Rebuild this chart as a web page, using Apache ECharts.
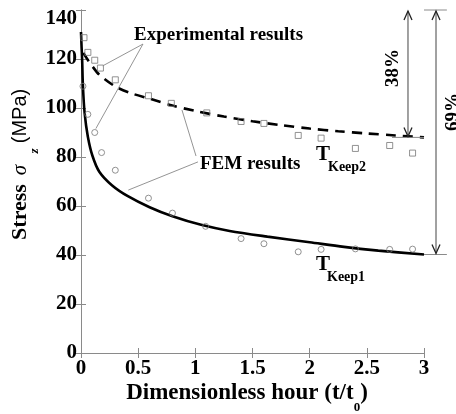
<!DOCTYPE html>
<html>
<head>
<meta charset="utf-8">
<script src="https://cdn.jsdelivr.net/npm/echarts@6/dist/echarts.min.js"></script>
<style>
  html, body { margin: 0; padding: 0; background: #fff; }
  #chart { width: 456px; height: 414px; }
</style>
</head>
<body>
<div id="chart"></div>
<script>
// experimental points (squares = T_Keep2, circles = T_Keep1)
var sqX = [0.026, 0.06, 0.12, 0.17, 0.30, 0.59, 0.79, 1.10, 1.40, 1.60, 1.90, 2.10, 2.40, 2.70, 2.90];
var sqY = [128.7, 122.7, 119.5, 116.3, 111.5, 105.0, 101.9, 98.0, 94.5, 93.7, 88.8, 87.7, 83.5, 84.7, 81.6];
var ciX = [0.017, 0.06, 0.12, 0.18, 0.30, 0.59, 0.80, 1.09, 1.40, 1.60, 1.90, 2.10, 2.40, 2.70, 2.90];
var ciY = [108.9, 97.4, 90.0, 81.8, 74.6, 63.2, 57.1, 51.7, 46.7, 44.6, 41.3, 42.3, 42.5, 42.3, 42.4];

// FEM curves
var fem1X = [0, 0.005, 0.01, 0.017, 0.032, 0.06, 0.1, 0.16, 0.27, 0.41, 0.6, 0.8, 1.05, 1.3, 1.63, 2.0, 2.3, 2.6, 3.0];
var fem1Y = [131, 125, 119.7, 108.8, 97.8, 88.3, 80.5, 74, 68.5, 64, 59.5, 55.8, 52.3, 49.8, 47.5, 45.2, 43.3, 41.8, 40.2];
var fem2X = [0.02, 0.05, 0.1, 0.16, 0.3, 0.44, 0.6, 0.8, 1.0, 1.25, 1.5, 1.75, 2.0, 2.25, 2.5, 2.75, 3.0];
var fem2Y = [122.5, 120.3, 117, 113.6, 108.8, 106, 103.8, 101, 98.8, 96.5, 94.6, 93, 91.6, 90.5, 89.6, 88.8, 88];

var xLabels = ['0', '0.5', '1', '1.5', '2', '2.5', '3'];

function pairs(xs, ys) {
    var out = [];
    for (var i = 0; i < xs.length; i++) out.push([xs[i], ys[i]]);
    return out;
}

var SERIF = '"Liberation Serif", "Times New Roman", serif';
var GRAY = '#8a8a8a';

var chart = echarts.init(document.getElementById('chart'), null, { renderer: 'canvas' });

var axisBase = {
    type: 'value',
    axisLine: { show: true, lineStyle: { color: GRAY, width: 1 } },
    axisTick: { show: true, inside: true, length: 5, lineStyle: { color: GRAY } },
    splitLine: { show: false }
};

var option = {
    animation: false,
    backgroundColor: '#fff',
    grid: { left: 81, top: 10, right: 32, bottom: 61 },
    xAxis: [
        Object.assign({}, axisBase, {
            min: 0, max: 3, interval: 0.5, position: 'bottom',
            axisLabel: {
                margin: 5, color: '#000', fontFamily: SERIF, fontWeight: 'bold', fontSize: 21,
                formatter: function (v) { return xLabels[Math.round(v * 2)]; }
            }
        }),
        Object.assign({}, axisBase, {
            min: 0, max: 3, interval: 0.5, position: 'top',
            axisLabel: { show: false }
        })
    ],
    yAxis: [
        Object.assign({}, axisBase, {
            min: 0, max: 140, interval: 20, position: 'left',
            axisLabel: {
                margin: 4, color: '#000', fontFamily: SERIF, fontWeight: 'bold', fontSize: 21,
                formatter: function (v) { return v === 140 ? '{t|140}' : String(v); },
                rich: { t: { fontFamily: SERIF, fontWeight: 'bold', fontSize: 21, padding: [18, 0, 0, 0] } }
            }
        }),
        Object.assign({}, axisBase, {
            min: 0, max: 140, interval: 20, position: 'right',
            axisLabel: { show: false }
        })
    ],
    series: [
        {
            type: 'line', data: pairs(fem2X, fem2Y), showSymbol: false, smooth: 0.3,
            lineStyle: { color: '#000', width: 2.6, type: [10, 7] }, z: 3
        },
        {
            type: 'line', data: pairs(fem1X, fem1Y), showSymbol: false, smooth: 0.3,
            lineStyle: { color: '#000', width: 2.6 }, z: 3
        },
        {
            type: 'scatter', data: pairs(sqX, sqY), symbol: 'rect', symbolSize: 6,
            itemStyle: { color: 'rgba(255,255,255,0)', borderColor: '#777', borderWidth: 1 }, z: 4
        },
        {
            type: 'scatter', data: pairs(ciX, ciY), symbol: 'circle', symbolSize: 6,
            itemStyle: { color: 'rgba(255,255,255,0)', borderColor: '#777', borderWidth: 1 }, z: 4
        }
    ]
};
chart.setOption(option);

// annotations (leader lines and arrows are anchored in data units)
function px(x, y) { return chart.convertToPixel({ gridIndex: 0 }, [x, y]); }

var leaders = [
    [[0.542, 126.1], [0.19, 117.2]],
    [[0.542, 126.1], [0.13, 91.6]],
    [[1.006, 80.4], [0.883, 99.2]],
    [[1.023, 78.0], [0.414, 66.5]]
];

var g = [];
leaders.forEach(function (l) {
    var a = px(l[0][0], l[0][1]), b = px(l[1][0], l[1][1]);
    g.push({ type: 'line', shape: { x1: a[0], y1: a[1], x2: b[0], y2: b[1] },
        style: { stroke: '#888', lineWidth: 0.9 }, z: 10 });
});

function hline(x1, x2, y, color) {
    var a = px(x1, y), b = px(x2, y);
    g.push({ type: 'line', shape: { x1: a[0], y1: a[1], x2: b[0], y2: b[1] },
        style: { stroke: color, lineWidth: 1 }, z: 10 });
}
function arrow(x, yTop, yBot) {
    var a = px(x, yTop), b = px(x, yBot);
    g.push({ type: 'line', shape: { x1: a[0], y1: a[1] + 1, x2: b[0], y2: b[1] - 1 },
        style: { stroke: '#444', lineWidth: 1 }, z: 10 });
    g.push({ type: 'polyline', shape: { points: [[a[0] - 4, a[1] + 10], [a[0], a[1] + 1], [a[0] + 4, a[1] + 10]] },
        style: { stroke: '#222', lineWidth: 1.3, fill: null }, z: 10 });
    g.push({ type: 'polyline', shape: { points: [[b[0] - 4, b[1] - 10], [b[0], b[1] - 1], [b[0] + 4, b[1] - 10]] },
        style: { stroke: '#222', lineWidth: 1.3, fill: null }, z: 10 });
}
hline(3, 3.2, 140, GRAY);
hline(2.72, 3, 88, GRAY);
hline(3, 3.2, 40.2, GRAY);
arrow(2.86, 140, 88);
arrow(3.105, 140, 40.2);

function txt(x, y, s, font, opts) {
    var o = Object.assign({ type: 'text', x: x, y: y, z: 20,
        style: { text: s, font: font, fill: '#000', align: 'center', verticalAlign: 'middle' } }, opts || {});
    if (opts && opts.style) o.style = Object.assign({ text: s, font: font, fill: '#000', align: 'center', verticalAlign: 'middle' }, opts.style);
    g.push(o);
}
var B19 = 'bold 19px ' + SERIF;
txt(134, 35, 'Experimental results', B19, { style: { align: 'left' } });
txt(200, 164, 'FEM results', B19, { style: { align: 'left' } });
txt(316, 155, 'T', 'bold 21px ' + SERIF, { style: { align: 'left' } });
txt(328, 167, 'Keep2', 'bold 14px ' + SERIF, { style: { align: 'left' } });
txt(316, 265, 'T', 'bold 21px ' + SERIF, { style: { align: 'left' } });
txt(327, 277, 'Keep1', 'bold 14px ' + SERIF, { style: { align: 'left' } });
txt(393, 68, '38%', B19, { rotation: Math.PI / 2 });
txt(453, 112, '69%', B19, { rotation: Math.PI / 2 });

// axis titles
txt(20, 212, 'Stress', 'bold 22px ' + SERIF, { rotation: Math.PI / 2 });
txt(20, 170, 'σ', 'italic 21px ' + SERIF, { rotation: Math.PI / 2 });
txt(35, 151, 'z', 'bold italic 13px ' + SERIF, { rotation: Math.PI / 2 });
txt(20, 116, '(MPa)', '20px "Liberation Sans", Arial, sans-serif', { rotation: Math.PI / 2 });
g.push({
    type: 'text', x: 247, y: 393, z: 20,
    style: {
        text: '{m|Dimensionless hour (t/t}{s|0}{m|)}',
        align: 'center', verticalAlign: 'middle',
        rich: {
            m: { fontFamily: SERIF, fontWeight: 'bold', fontSize: 23, fill: '#000', lineHeight: 26 },
            s: { fontFamily: SERIF, fontWeight: 'bold', fontSize: 13, fill: '#000', lineHeight: 13, padding: [30, 0, 0, 0] }
        }
    }
});

chart.setOption({ graphic: g });
window.addEventListener('resize', chart.resize);
</script>
</body>
</html>
